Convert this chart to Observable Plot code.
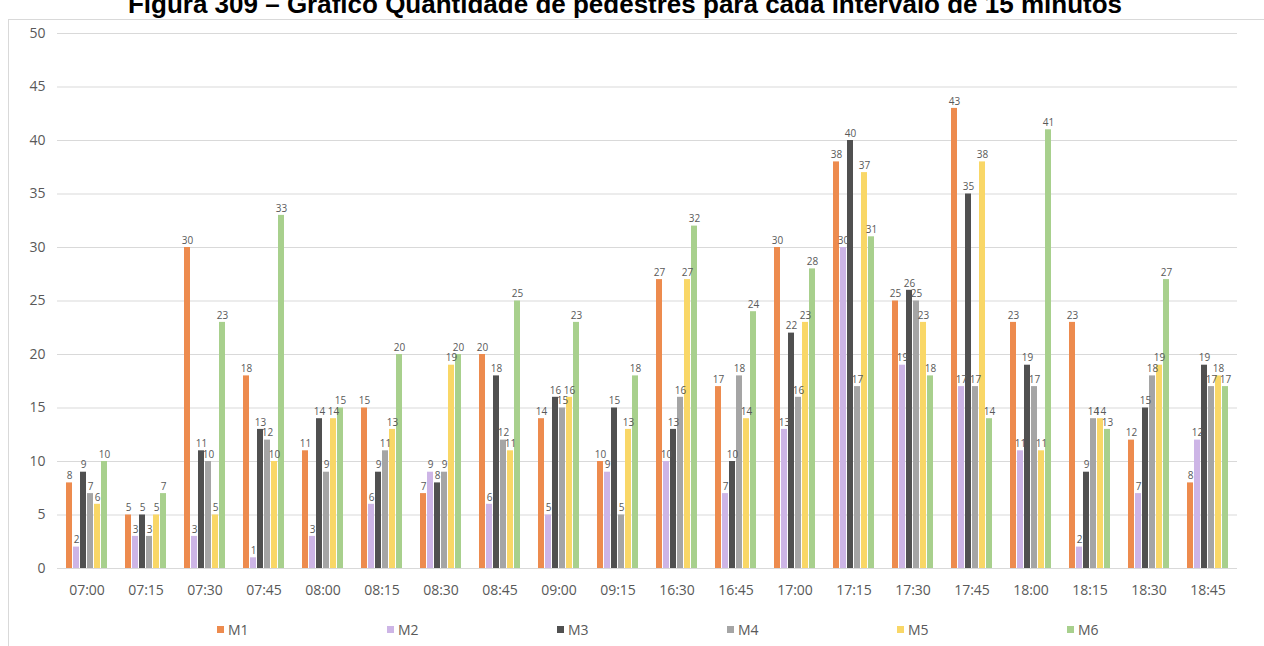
<!DOCTYPE html>
<html><head><meta charset="utf-8">
<script src="https://cdn.jsdelivr.net/npm/d3@7"></script>
<script src="https://cdn.jsdelivr.net/npm/@observablehq/plot@0.6"></script>
<style>
body{margin:0;background:#fff;}
#wrap{position:relative;width:1264px;height:646px;overflow:hidden;font-family:"Open Sans",sans-serif;background:#fff;}
#frame{position:absolute;left:8px;top:19px;width:1270px;height:640px;border:1px solid #d9d9d9;}
#title{position:absolute;left:0;top:-11px;width:1250px;text-align:center;font:bold 26px "Liberation Sans",Arial,sans-serif;line-height:30px;color:#000;white-space:nowrap;}
#chart{position:absolute;left:0;top:0;}
#legend{position:absolute;left:217px;top:620px;display:flex;}
.item{width:170px;display:flex;align-items:center;font-size:14px;color:#595959;}
.sw{width:7px;height:7px;margin-right:4px;}
</style></head><body>
<div id="wrap"><div id="frame"></div><div id="chart"></div><div id="title">Figura 309 – Gráfico Quantidade de pedestres para cada intervalo de 15 minutos</div><div id="legend"></div></div>
<script>
const times = ["07:00","07:15","07:30","07:45","08:00","08:15","08:30","08:45","09:00","09:15","16:30","16:45","17:00","17:15","17:30","17:45","18:00","18:15","18:30","18:45"];
const seriesNames = ["M1","M2","M3","M4","M5","M6"];
const M1 = [8,5,30,18,11,15,7,20,14,10,27,17,30,38,25,43,23,23,12,8];
const M2 = [2,3,3,1,3,6,9,6,5,9,10,7,13,30,19,17,11,2,7,12];
const M3 = [9,5,11,13,14,9,8,18,16,15,13,10,22,40,26,35,19,9,15,19];
const M4 = [7,3,10,12,9,11,9,12,15,5,16,18,16,17,25,17,17,14,18,17];
const M5 = [6,5,5,10,14,13,19,11,16,13,27,14,23,37,23,38,11,14,19,18];
const M6 = [10,7,23,33,15,20,20,25,23,18,32,24,28,31,18,14,41,13,27,17];
const colors = ["#ED8B4E","#CDB5E6","#505050","#A5A5A5","#F9D767","#A8D08D"];
const yTicks = [0,5,10,15,20,25,30,35,40,45,50];

const seriesValues = [M1,M2,M3,M4,M5,M6];
const data = [];
times.forEach((t,i)=>seriesNames.forEach((s,j)=>data.push({time:t,series:s,value:seriesValues[j][i]})));

const chart = Plot.plot({
  width:1264, height:610, marginTop:33, marginBottom:42, marginLeft:55, marginRight:26,
  style:{fontFamily:"'Open Sans', sans-serif", fontSize:"14px", color:"#595959", background:"transparent"},
  fx:{domain:times, padding:0, label:null},
  x:{domain:seriesNames, paddingInner:0.12, paddingOuter:0.75, axis:null},
  y:{domain:[0,50], label:null},
  color:{domain:seriesNames, range:colors},
  marks:[
    Plot.gridY(yTicks,{stroke:"#d9d9d9", strokeOpacity:1}),
    Plot.axisY(yTicks,{tickSize:0, tickPadding:12, label:null, fill:"#595959"}),
    Plot.axisFx({anchor:"bottom", tickSize:0, tickPadding:17, label:null, fill:"#595959"}),
    Plot.barY(data,{fx:"time", x:"series", y:"value", fill:"series"}),
    Plot.text(data,{fx:"time", x:"series", y:"value", text:d=>String(d.value), dy:-7, fontSize:10, fill:"#595959"})
  ]
});
document.getElementById("chart").appendChild(chart);

const legend = document.getElementById("legend");
seriesNames.forEach((s,i)=>{
  const it = document.createElement("div"); it.className="item";
  const sw = document.createElement("span"); sw.className="sw"; sw.style.background=colors[i];
  const tx = document.createElement("span"); tx.textContent=s;
  it.appendChild(sw); it.appendChild(tx); legend.appendChild(it);
});
</script>
</body></html>
